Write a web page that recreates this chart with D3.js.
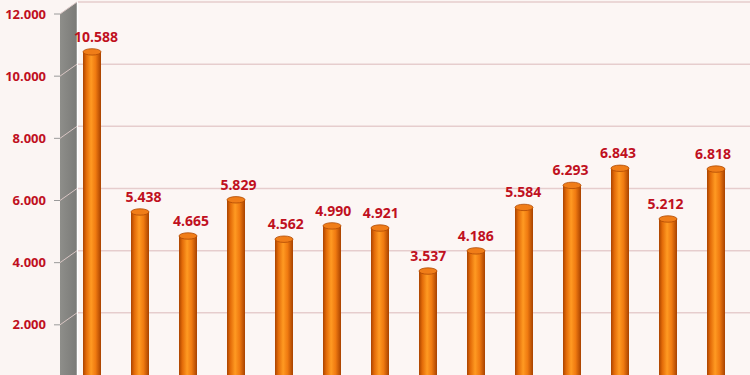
<!DOCTYPE html>
<html>
<head>
<meta charset="utf-8">
<script src="https://cdn.jsdelivr.net/npm/d3@7"></script>
<style>
  html, body { margin: 0; padding: 0; background: #fbf5f3; }
  svg { display: block; }
</style>
</head>
<body>
<svg id="chart" width="750" height="375"></svg>
<script>
// values (x labels are cut off in the reference)
const categories = ["1", "2", "3", "4", "5", "6", "7", "8", "9", "10", "11", "12", "13", "14"];
const values = [10588, 5438, 4665, 5829, 4562, 4990, 4921, 3537, 4186, 5584, 6293, 6843, 5212, 6818];
const yTicks = [2000, 4000, 6000, 8000, 10000, 12000];

const width = 750, height = 375;
const depthX = 17, depthY = -12; // 3d wall depth offset

const svg = d3.select("#chart");
const fmt = d => d3.format(",")(d).replace(/,/g, ".");
const fmtTick = d => d3.format(".3f")(d / 1000);

const wallX = 60;
var y = d3.scaleLinear().domain([0, 12000]).range([387, 14]);
var x = d3.scaleBand().domain(categories).range([68, 740]);
// labels drift slightly with the perspective, right of the bar on the left, left on the right
var labelShift = d3.scaleLinear().domain([0, categories.length - 1]).range([4, -3]);

var defs = svg.append("defs");
var grad = defs.append("linearGradient").attr("id", "cyl").attr("x1", 0).attr("x2", 1).attr("y1", 0).attr("y2", 0);
grad.append("stop").attr("offset", "0%").attr("stop-color", "#a94300");
grad.append("stop").attr("offset", "18%").attr("stop-color", "#e26a08");
grad.append("stop").attr("offset", "45%").attr("stop-color", "#ff9a22");
grad.append("stop").attr("offset", "70%").attr("stop-color", "#f07a10");
grad.append("stop").attr("offset", "100%").attr("stop-color", "#a84200");

var wallGrad = defs.append("linearGradient").attr("id", "wall").attr("x1", 0).attr("x2", 1);
wallGrad.append("stop").attr("offset", "0%").attr("stop-color", "#8e8e8a");
wallGrad.append("stop").attr("offset", "100%").attr("stop-color", "#7a7a77");

// back wall
svg.append("rect")
  .attr("x", wallX + depthX).attr("y", y(12000) + depthY)
  .attr("width", width - wallX - depthX).attr("height", height)
  .attr("fill", "#fcf6f4");

// side wall
svg.append("path")
  .attr("d", `M${wallX},${y(12000)} L${wallX + depthX},${y(12000) + depthY} L${wallX + depthX},${height + 5} L${wallX},${height + 5} Z`)
  .attr("fill", "url(#wall)");
svg.append("line")
  .attr("x1", wallX + depthX + 0.5).attr("x2", wallX + depthX + 0.5)
  .attr("y1", y(12000) + depthY).attr("y2", height)
  .attr("stroke", "#ffffff").attr("stroke-width", 1.5);

// gridlines on the back wall and side wall
var grid = svg.append("g").selectAll("g").data(yTicks).enter();
grid.append("line")
  .attr("x1", wallX + depthX + 1).attr("x2", width)
  .attr("y1", d => y(d) + depthY).attr("y2", d => y(d) + depthY)
  .attr("stroke", "#e6cdcd").attr("stroke-width", 1.5);
grid.append("line")
  .attr("x1", wallX).attr("x2", wallX + depthX)
  .attr("y1", d => y(d)).attr("y2", d => y(d) + depthY)
  .attr("stroke", "#d9c6c4").attr("stroke-width", 1);
grid.append("line")
  .attr("x1", wallX - 6).attr("x2", wallX)
  .attr("y1", d => y(d)).attr("y2", d => y(d))
  .attr("stroke", "#9a9a9a").attr("stroke-width", 1);

// y tick labels
svg.append("g").selectAll("text").data(yTicks).enter().append("text")
  .attr("x", 46).attr("y", d => y(d))
  .attr("dy", "0.35em")
  .attr("text-anchor", "end")
  .attr("font-family", "Open Sans, sans-serif")
  .attr("font-weight", "bold")
  .attr("font-size", 13)
  .attr("fill", "#c0101e")
  .text(fmtTick);

// cylinders
const bw = 18, ry = 3.2;
var bars = svg.append("g").selectAll("g").data(values).enter().append("g");
bars.append("rect")
  .attr("x", (d, i) => x(categories[i]) + x.bandwidth() / 2 - bw / 2)
  .attr("y", d => y(d) + depthY / 2)
  .attr("width", bw)
  .attr("height", d => height - y(d) - depthY / 2 + 5)
  .attr("fill", "url(#cyl)");
bars.append("ellipse")
  .attr("cx", (d, i) => x(categories[i]) + x.bandwidth() / 2)
  .attr("cy", d => y(d) + depthY / 2)
  .attr("rx", bw / 2).attr("ry", ry)
  .attr("fill", "#f07d18")
  .attr("stroke", "#b04a04").attr("stroke-width", 0.8);

// value labels
bars.append("text")
  .attr("x", (d, i) => x(categories[i]) + x.bandwidth() / 2 + labelShift(i))
  .attr("y", d => y(d) + depthY / 2 - 10)
  .attr("text-anchor", "middle")
  .attr("font-family", "Open Sans, sans-serif")
  .attr("font-weight", "bold")
  .attr("font-size", 14)
  .attr("fill", "#c0101e")
  .text(fmt);
</script>
</body>
</html>
